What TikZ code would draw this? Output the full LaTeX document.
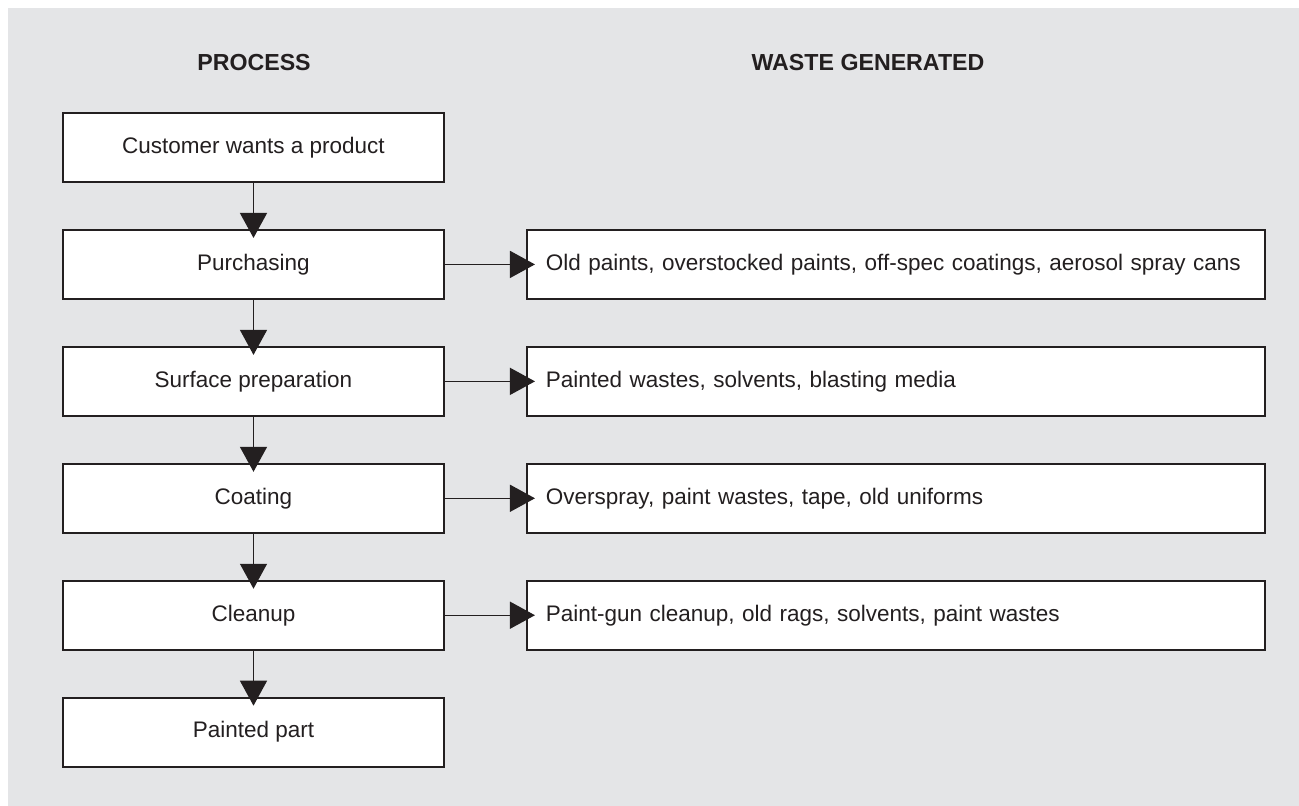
\documentclass[tikz,border=0pt]{standalone}
\usepackage{fontspec}
\setmainfont{Liberation Sans}
\usetikzlibrary{arrows.meta,positioning}
\definecolor{PanelGray}{RGB}{228,229,231}
\definecolor{InkDark}{RGB}{35,31,32}
\tikzset{
  procbox/.style={draw=InkDark,fill=white,line width=1.1pt,
    minimum width=7.62cm,minimum height=1.38cm,inner sep=0pt,
    text=InkDark,font=\fontsize{12.8}{15}\selectfont},
  wastebox/.style={procbox,minimum width=14.76cm,text width=14.0cm,align=left},
  header/.style={text=InkDark,font=\fontsize{13.2}{15}\selectfont\bfseries},
  arrow/.style={-{Triangle[length=0.5cm,width=0.54cm]},line width=0.8pt,
    InkDark,shorten >=-0.18cm}
}

\begin{document}
\begin{tikzpicture}[node distance=0.92cm]
      \useasboundingbox (0,0) rectangle (25.98,-16.12);
      \fill[PanelGray] (0.16,-0.16) rectangle (25.98,-16.12);
      \node[header] (process) at (5.08,-1.26) {PROCESS};
      \node[header] (waste) at (17.36,-1.26) {WASTE GENERATED};
      % process column
      \node[procbox] (customer) at (5.07,-2.95) {Customer wants a product};
      \node[procbox,below=of customer] (purchasing) {Purchasing};
      \node[procbox,below=of purchasing] (surface) {Surface preparation};
      \node[procbox,below=of surface] (coating) {Coating};
      \node[procbox,below=of coating] (cleanup) {Cleanup};
      \node[procbox,below=of cleanup] (part) {Painted part};
      % waste column
      \node[wastebox,right=1.62cm of purchasing] (purchasingwaste) {Old paints, overstocked paints, off-spec coatings, aerosol spray cans};
      \node[wastebox,right=1.62cm of surface] (surfacewaste) {Painted wastes, solvents, blasting media};
      \node[wastebox,right=1.62cm of coating] (coatingwaste) {Overspray, paint wastes, tape, old uniforms};
      \node[wastebox,right=1.62cm of cleanup] (cleanupwaste) {Paint-gun cleanup, old rags, solvents, paint wastes};
      \draw[arrow] (customer) -- (purchasing);
      \draw[arrow] (purchasing) -- (surface);
      \draw[arrow] (surface) -- (coating);
      \draw[arrow] (coating) -- (cleanup);
      \draw[arrow] (cleanup) -- (part);
      \draw[arrow] (purchasing) -- (purchasingwaste);
      \draw[arrow] (surface) -- (surfacewaste);
      \draw[arrow] (coating) -- (coatingwaste);
      \draw[arrow] (cleanup) -- (cleanupwaste);
    \end{tikzpicture}
\end{document}
